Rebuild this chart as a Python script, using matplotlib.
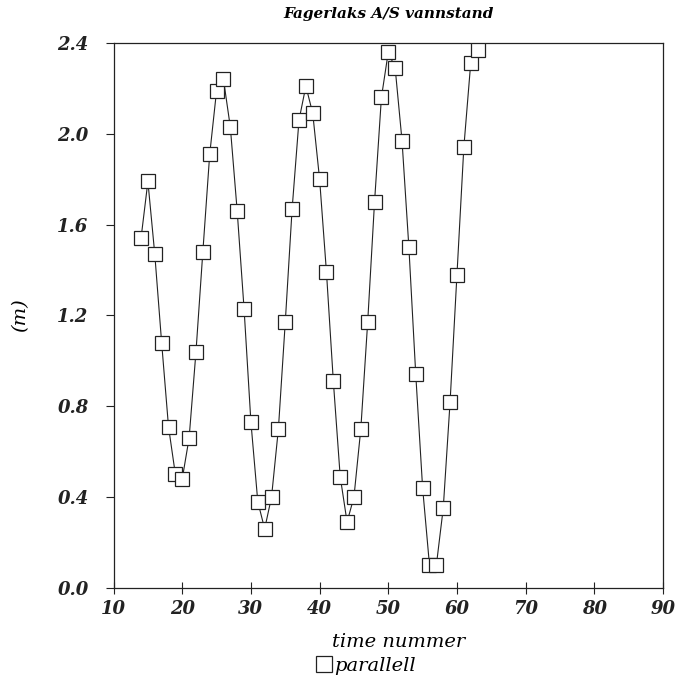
import matplotlib
matplotlib.use("Agg")
import matplotlib.pyplot as plt
from matplotlib.lines import Line2D

# water level readings
time_nr = list(range(14, 64))
level_m = [1.54, 1.79, 1.47, 1.08, 0.71, 0.50, 0.48, 0.66, 1.04, 1.48,
           1.91, 2.19, 2.24, 2.03, 1.66, 1.23, 0.73, 0.38, 0.26, 0.40,
           0.70, 1.17, 1.67, 2.06, 2.21, 2.09, 1.80, 1.39, 0.91, 0.49,
           0.29, 0.40, 0.70, 1.17, 1.70, 2.16, 2.36, 2.29, 1.97, 1.50,
           0.94, 0.44, 0.10, 0.10, 0.35, 0.82, 1.38, 1.94, 2.31, 2.37]

xticks = [10, 20, 30, 40, 50, 60, 70, 80, 90]
yticks = [0.0, 0.4, 0.8, 1.2, 1.6, 2.0, 2.4]

serif = "DejaVu Serif"
ink = "#222222"

fig = plt.figure(figsize=(6.8, 6.82), dpi=100)
ax = fig.add_axes([0.167, 0.138, 0.808, 0.799])

ax.plot(time_nr, level_m, color=ink, lw=0.8, zorder=2)
ax.plot(time_nr, level_m, ls="none", marker="s", ms=10.5, mfc="white",
        mec=ink, mew=0.9, zorder=3)

ax.set_xlim(10, 90)
ax.set_ylim(0.0, 2.4)
ax.set_xticks(xticks)
ax.set_yticks(yticks)
ax.set_xticklabels([str(v) for v in xticks], fontfamily=serif,
                   fontstyle="italic", fontweight="bold", fontsize=13)
ax.set_yticklabels(["%.1f" % v for v in yticks], fontfamily=serif,
                   fontstyle="italic", fontweight="bold", fontsize=13)
ax.tick_params(axis="x", direction="inout", length=8, width=0.8, pad=5, colors=ink)
ax.tick_params(axis="y", direction="out", length=6, width=0.8, pad=12, colors=ink)
for s in ax.spines.values():
    s.set_linewidth(0.9)
    s.set_color(ink)

ax.set_title("Fagerlaks A/S vannstand", fontfamily=serif, fontstyle="italic",
             fontweight="bold", fontsize=11, pad=18)
ax.set_xlabel("time nummer", fontfamily=serif, fontstyle="italic",
              fontsize=14, va="center")
ax.xaxis.set_label_coords(0.518, -0.099)
ax.set_ylabel("(m)", fontfamily=serif, fontstyle="italic", fontsize=14,
              labelpad=20)

handle = Line2D([], [], ls="none", marker="s", ms=12, mfc="white",
                mec=ink, mew=0.9)
fig.legend([handle], ["parallell"], loc="center", bbox_to_anchor=(0.54, 0.024),
           frameon=False, handlelength=0.6, handletextpad=0.2, borderpad=0.1,
           prop={"family": serif, "style": "italic", "size": 14})

fig.savefig("out.png", dpi=100, facecolor="white")
